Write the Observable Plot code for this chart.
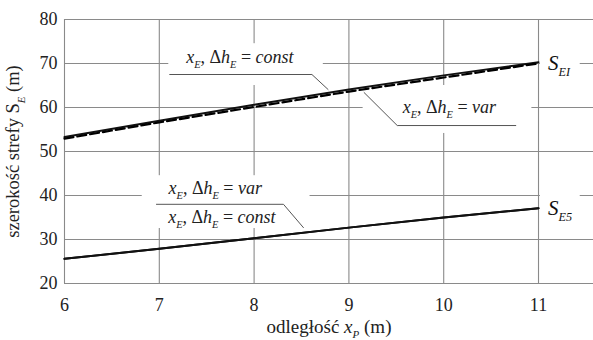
<!DOCTYPE html>
<html><head><meta charset="utf-8">
<script src="https://cdn.jsdelivr.net/npm/d3@7"></script>
<script src="https://cdn.jsdelivr.net/npm/@observablehq/plot@0.6"></script>
<style>
body{margin:0;background:#fff}
</style>
</head><body><div id="chart"></div>
<script>
// ---- data ----
const distance = [6, 7, 8, 9, 10, 11];
const sE1Const = [53.3, 57.0, 60.6, 64.1, 67.3, 70.3];
const sE1Var   = [53.1, 56.8, 60.3, 63.8, 67.0, 70.2];
const sE5Var   = [25.6, 27.9, 30.3, 32.7, 35.0, 37.1];
const sE5Const = [25.6, 27.9, 30.3, 32.7, 35.0, 37.1];
const xTicks = [6, 7, 8, 9, 10, 11];
const yTicks = [20, 30, 40, 50, 60, 70, 80];
const xTitle = "odległość xP (m)";
const yTitle = "szerokość strefy SE (m)";

// annotation labels (data units)
const labelText = ["xE, ΔhE = const", "xE, ΔhE = var", "xE, ΔhE = var", "xE, ΔhE = const"];
const labelX = [7.85, 10.06, 7.59, 7.66];
const labelY = [71.4, 60.0, 41.6, 35.0];
const seriesName = ["SE1", "SE5"];
const seriesNameX = [11.1, 11.1];
const seriesNameY = [70.0, 37.0];

// white boxes behind labels (data units)
const boxX1 = [7.10, 9.15, 6.82, 11.02, 11.02];
const boxX2 = [8.73, 10.93, 8.59, 11.44, 11.44];
const boxY1 = [65.0, 54.1, 32.5, 67.0, 34.0];
const boxY2 = [74.5, 65.0, 44.5, 73.0, 43.0];

// leader lines
const leaderId = [1, 1, 1, 2, 2, 2, 3, 3, 3];
const leaderX  = [7.11, 8.61, 8.78, 10.76, 9.51, 9.16, 6.97, 8.31, 8.52];
const leaderY  = [67.5, 67.5, 64.1, 55.9, 55.9, 63.4, 38.0, 38.0, 32.7];

// ---- tables built from arrays ----
const rows = (ys) => distance.map((d, i) => ({x: d, y: ys[i]}));
const labels = labelText.map((t, i) => ({t, x: labelX[i], y: labelY[i]}));
const names = seriesName.map((t, i) => ({t, x: seriesNameX[i], y: seriesNameY[i]}));
const boxes = boxX1.map((d, i) => ({x1: d, x2: boxX2[i], y1: boxY1[i], y2: boxY2[i]}));
const leaders = leaderId.map((id, i) => ({id, x: leaderX[i], y: leaderY[i]}));

const FONT = '"Liberation Serif", "Times New Roman", serif';
const grid = "#8a8a8a";
const plot = Plot.plot({
  width: 593, height: 340,
  marginLeft: 64, marginRight: 0, marginTop: 19, marginBottom: 57,
  style: {fontFamily: FONT, background: "white"},
  x: {domain: [6, 11.58]},
  y: {domain: [20, 80]},
  marks: [
    Plot.ruleX(xTicks, {stroke: grid, strokeWidth: 1.1}),
    Plot.ruleY(yTicks, {stroke: grid, strokeWidth: 1.1}),
    Plot.rect(boxes, {x1: "x1", x2: "x2", y1: "y1", y2: "y2", fill: "white"}),
    Plot.line(leaders, {x: "x", y: "y", z: "id", stroke: "#555", strokeWidth: 1}),
    Plot.line(rows(sE5Const), {x: "x", y: "y", stroke: "#111", strokeWidth: 2}),
    Plot.line(rows(sE5Var), {x: "x", y: "y", stroke: "#111", strokeWidth: 2}),
    Plot.line(rows(sE1Const), {x: "x", y: "y", stroke: "#111", strokeWidth: 2}),
    Plot.line(rows(sE1Var), {x: "x", y: "y", stroke: "#000", strokeWidth: 2.2, strokeDasharray: "9,4", dy: 0.8}),
    Plot.text(labels, {x: "x", y: "y", text: "t", fontSize: 18, fill: "#222", fontFamily: FONT}),
    Plot.text(names, {x: "x", y: "y", text: "t", fontSize: 21, textAnchor: "start", fill: "#111", fontFamily: FONT}),
    Plot.axisX(xTicks, {tickSize: 0, tickPadding: 15, fontSize: 18, label: null, fill: "#222", fontFamily: FONT}),
    Plot.axisY(yTicks, {tickSize: 0, tickPadding: 7, fontSize: 18, label: null, fill: "#222", fontFamily: FONT}),
    Plot.text([xTitle], {frameAnchor: "bottom", dy: 49, fontSize: 19, fill: "#222", fontFamily: FONT}),
    Plot.text([yTitle], {frameAnchor: "left", textAnchor: "middle", dx: -51, rotate: -90, fontSize: 18.5, fill: "#222", fontFamily: FONT})
  ]
});
document.getElementById("chart").appendChild(plot);

// ---- rich text (italics, subscripts) ----
const lab = (v) => [["x","i"],["E","si"],[", Δ",""],["h","i"],["E","si"],[" = ",""],[v,"i"]];
const rich = {
  "xE, ΔhE = const": lab("const"),
  "xE, ΔhE = var": lab("var"),
  "SE1": [["S","i"],["EI","si"]],
  "SE5": [["S","i"],["E5","si"]],
  "odległość xP (m)": [["odległość ",""],["x","i"],["P","si"],[" (m)",""]],
  "szerokość strefy SE (m)": [["szerokość strefy ",""],["S",""],["E","si"],[" (m)",""]]
};
plot.querySelectorAll("text").forEach((el) => {
  const parts = rich[el.textContent];
  if (!parts) return;
  const base = parseFloat(getComputedStyle(el).fontSize) || 17;
  const shift = base * 0.28;
  while (el.firstChild) el.removeChild(el.firstChild);
  let low = false;
  for (const [s, st] of parts) {
    const ts = document.createElementNS("http://www.w3.org/2000/svg", "tspan");
    ts.textContent = s;
    const sub = st.startsWith("s");
    if (st.includes("i")) ts.setAttribute("font-style", "italic");
    if (sub) ts.setAttribute("font-size", (base * 0.58).toFixed(1));
    if (sub && !low) { ts.setAttribute("dy", shift.toFixed(1)); low = true; }
    else if (!sub && low) { ts.setAttribute("dy", (-shift).toFixed(1)); low = false; }
    el.appendChild(ts);
  }
});
</script>
</body></html>
